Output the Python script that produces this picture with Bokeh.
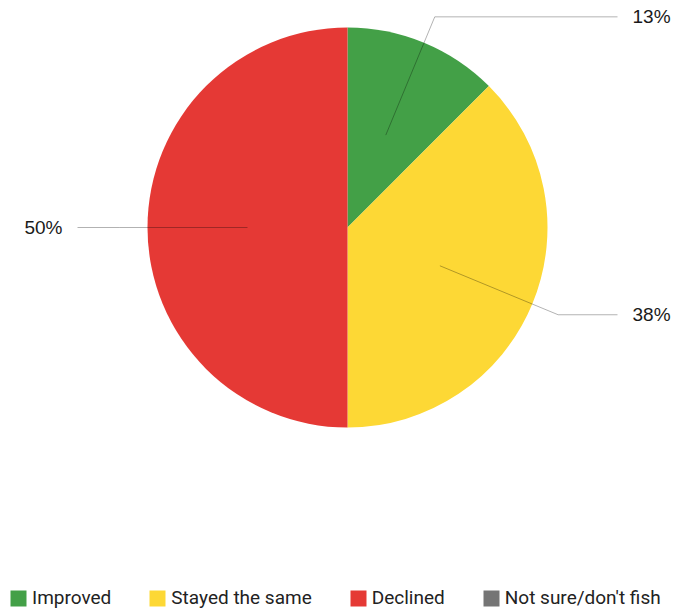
import numpy as np
from bokeh.plotting import figure
from bokeh.models import ColumnDataSource, Range1d, Legend, LegendItem
from bokeh.core.properties import value
from bokeh.embed import file_html
from bokeh.resources import INLINE

categories = ["Improved", "Stayed the same", "Declined", "Not sure/don't fish"]
shares = [12.5, 37.5, 50.0, 0.0]
colors = ["#43a047", "#fdd835", "#e53935", "#757575"]
pct_labels = ["13%", "38%", "50%", ""]

# layout (x = px from left, y = px from bottom)
W, H = 673, 614
CX, CY, R = 347, H - 227, 200

p = figure(width=W, height=H, output_backend="svg", toolbar_location=None,
           x_range=Range1d(0, W), y_range=Range1d(0, H),
           min_border=0, outline_line_color=None)
p.axis.visible = False
p.grid.visible = False
p.background_fill_color = "white"
p.border_fill_color = "white"

vals = np.array(shares, dtype=float)
frac = vals / vals.sum()
cum = np.concatenate([[0], np.cumsum(frac)[:-1]])
start = np.pi / 2 - cum * 2 * np.pi
end = start - frac * 2 * np.pi
radius = [R if v > 0 else 0 for v in vals]

src = ColumnDataSource(dict(cat=categories, start=start, end=end,
                            color=colors, r=radius,
                            x=[CX] * 4, y=[CY] * 4))
wr = p.wedge(x="x", y="y", radius="r", start_angle="start", end_angle="end",
             direction="clock", fill_color="color", line_color=None, source=src)

# leader lines and labels
xs, ys = [], []
tx, ty, ta, tt = [], [], [], []
for i, v in enumerate(vals):
    if v <= 0:
        continue
    mid = (start[i] + end[i]) / 2
    c, s = np.cos(mid), np.sin(mid)
    x0, y0 = CX + 0.5 * R * c, CY + 0.5 * R * s
    x1, y1 = CX + 1.14 * R * c, CY + 1.14 * R * s
    side = 1 if c > 1e-9 else -1
    x2 = CX + side * 270
    xs.append([x0, x1, x2])
    ys.append([y0, y1, y1])
    tx.append(CX + side * 285)
    ty.append(y1)
    ta.append("left" if side > 0 else "right")
    tt.append(pct_labels[i])

p.multi_line(xs, ys, line_color="black", line_alpha=0.3, line_width=1)
p.text(x=tx, y=ty, text=tt, text_align=ta, text_baseline="middle",
       text_font=value("Liberation Sans"), text_font_size="19px",
       text_color="#1a1a1a")

items = [LegendItem(label=categories[i], renderers=[wr], index=i)
         for i in range(len(categories))]
legend = Legend(items=items, orientation="horizontal", location=(8, 5),
                glyph_width=20, glyph_height=20, label_standoff=4,
                spacing=36, padding=0, margin=0,
                border_line_color=None, background_fill_alpha=0,
                label_text_font="Roboto", label_text_font_size="19px",
                label_text_color="#222222")
p.add_layout(legend)

open("out.html", "w").write(file_html(p, INLINE))
